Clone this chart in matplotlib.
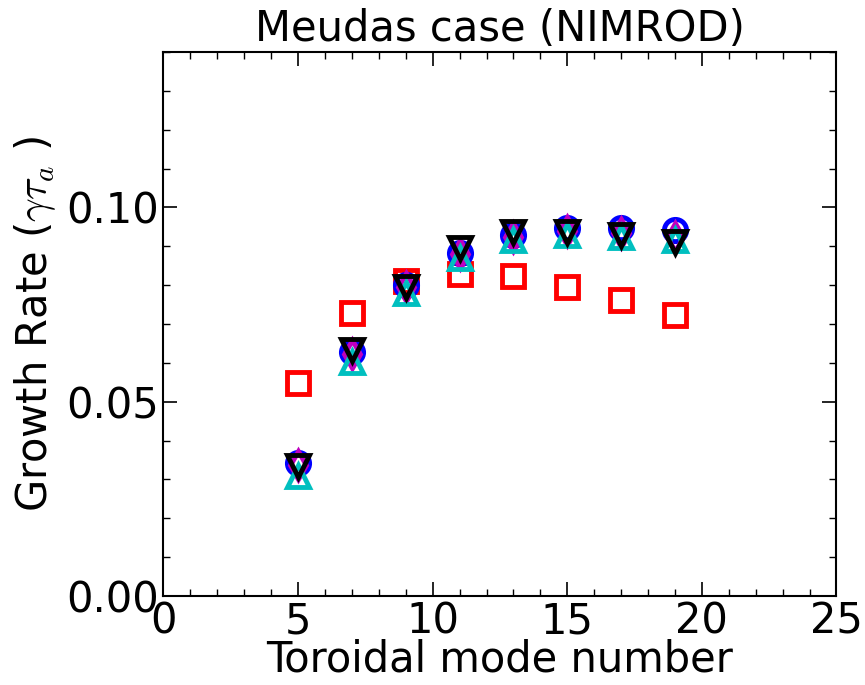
import matplotlib
matplotlib.use('Agg')
import matplotlib.pyplot as plt
from matplotlib.ticker import MultipleLocator

plt.rcParams['mathtext.fontset'] = 'cm'

n = [5, 7, 9, 11, 13, 15, 17, 19]
gr_square = [0.0548, 0.0728, 0.0810, 0.0830, 0.0823, 0.0796, 0.0762, 0.0722]
gr_circle = [0.0342, 0.0627, 0.0800, 0.0884, 0.0928, 0.0946, 0.0946, 0.0942]
gr_diamond = [0.0338, 0.0622, 0.0795, 0.0880, 0.0925, 0.0940, 0.0935, 0.0925]
gr_up = [0.0310, 0.0602, 0.0780, 0.0870, 0.0915, 0.0928, 0.0923, 0.0915]
gr_down = [0.0335, 0.0632, 0.0795, 0.0895, 0.0936, 0.0936, 0.0928, 0.0910]

fig = plt.figure(figsize=(8.65, 6.85), dpi=100)
ax = fig.add_axes([0.189, 0.13, 0.778, 0.794])

ms = 16
ax.plot(n, gr_square, 's', mfc='none', mec='red', ms=ms, mew=3.5)
ax.plot(n, gr_circle, 'o', mfc='none', mec='blue', ms=ms, mew=3.5)
ax.plot(n, gr_diamond, 'd', mfc='none', mec='m', ms=ms - 2, mew=3.5)
ax.plot(n, gr_up, '^', mfc='none', mec='c', ms=ms, mew=3.5)
ax.plot(n, gr_down, 'v', mfc='none', mec='k', ms=ms, mew=3.5)

ax.set_xlim(0, 25)
ax.set_ylim(0, 0.14)
ax.xaxis.set_major_locator(MultipleLocator(5))
ax.xaxis.set_minor_locator(MultipleLocator(1))
ax.yaxis.set_major_locator(MultipleLocator(0.05))
ax.yaxis.set_minor_locator(MultipleLocator(0.01))
ax.yaxis.set_major_formatter(matplotlib.ticker.FormatStrFormatter('%.2f'))
ax.tick_params(which='both', direction='in', top=True, right=True, labelsize=30)
ax.tick_params(which='major', length=10, width=1.2)
ax.tick_params(which='minor', length=5, width=1)
for s in ax.spines.values():
    s.set_linewidth(1.5)

ax.set_xlabel('Toroidal mode number', fontsize=30, labelpad=-3)
ax.set_ylabel(r'Growth Rate ($\gamma\tau_a$ )', fontsize=30, labelpad=6)
ax.set_title('Meudas case (NIMROD)', fontsize=30, pad=8)

fig.savefig('out.png')
